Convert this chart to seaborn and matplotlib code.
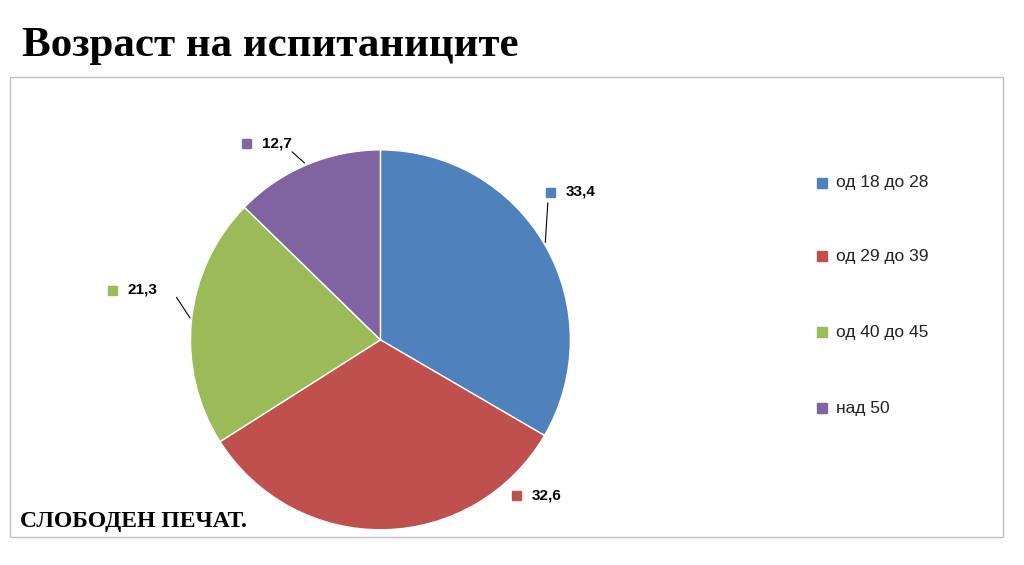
import matplotlib
matplotlib.use("Agg")
import matplotlib.pyplot as plt
import seaborn as sns
import numpy as np
from matplotlib.patches import Rectangle

sns.set_theme(style="white")
plt.rcParams['font.family'] = ['Liberation Sans', 'DejaVu Sans']

categories = ["од 18 до 28", "од 29 до 39", "од 40 до 45", "над 50"]
values = [33.4, 32.6, 21.3, 12.7]
labels = ["33,4", "32,6", "21,3", "12,7"]
colors = ["#4F81BD", "#C0504D", "#9BBB59", "#8064A2"]

fig = plt.figure(figsize=(10.24, 5.65), dpi=100)
fig.patch.set_facecolor("white")
fig.patches.append(Rectangle((10/1024, 28/565), 993/1024, 460/565, transform=fig.transFigure,
                             fill=False, edgecolor="#BFBFBF", lw=1))
ax = fig.add_axes([0.186, 0.062, 0.371, 0.673])
wedges, _ = ax.pie(values, colors=colors, startangle=90, counterclock=False,
                   wedgeprops=dict(edgecolor="white", linewidth=1))
ax.set_xlim(-1, 1)
ax.set_ylim(-1, 1)
ax.set_aspect("equal")

lab_pos = [(566, 373), (532, 70), (128, 275), (262, 422)]
line_pts = [(548, 365), None, (175, 270), (290, 415)]
for w, lab, col, pos, lp in zip(wedges, labels, colors, lab_pos, line_pts):
    ang = np.deg2rad((w.theta1 + w.theta2) / 2)
    edge = (np.cos(ang), np.sin(ang))
    if lp is not None:
        ax.annotate("", xy=edge, xycoords="data", xytext=lp, textcoords="figure pixels",
                    arrowprops=dict(arrowstyle="-", color="black", lw=0.8))
    fig.text(pos[0]/1024, pos[1]/565, lab, fontsize=11, fontweight="bold", va="center",
             ha="left", color="black")
    fig.patches.append(Rectangle(((pos[0]-20)/1024, (pos[1]-5)/565), 9/1024, 9/565,
                                 transform=fig.transFigure, color=col))

leg_y = [382, 309, 233, 157]
for cat, col, y in zip(categories, colors, leg_y):
    fig.patches.append(Rectangle((817/1024, (y-5)/565), 10/1024, 10/565,
                                 transform=fig.transFigure, color=col))
    fig.text(836/1024, y/565, cat, fontsize=12.5, va="center", ha="left", color="#222222")

fig.text(22/1024, 519/565, "Возраст на испитаниците", fontsize=31, fontweight="heavy",
         family=["Liberation Serif", "DejaVu Serif"], va="center", ha="left", color="black")
fig.text(20/1024, 43/565, "СЛОБОДЕН ПЕЧАТ.", fontsize=17, fontweight="bold",
         family=["Liberation Serif", "DejaVu Serif"], va="center", ha="left", color="black")

fig.savefig("out.png", dpi=100, facecolor="white")
